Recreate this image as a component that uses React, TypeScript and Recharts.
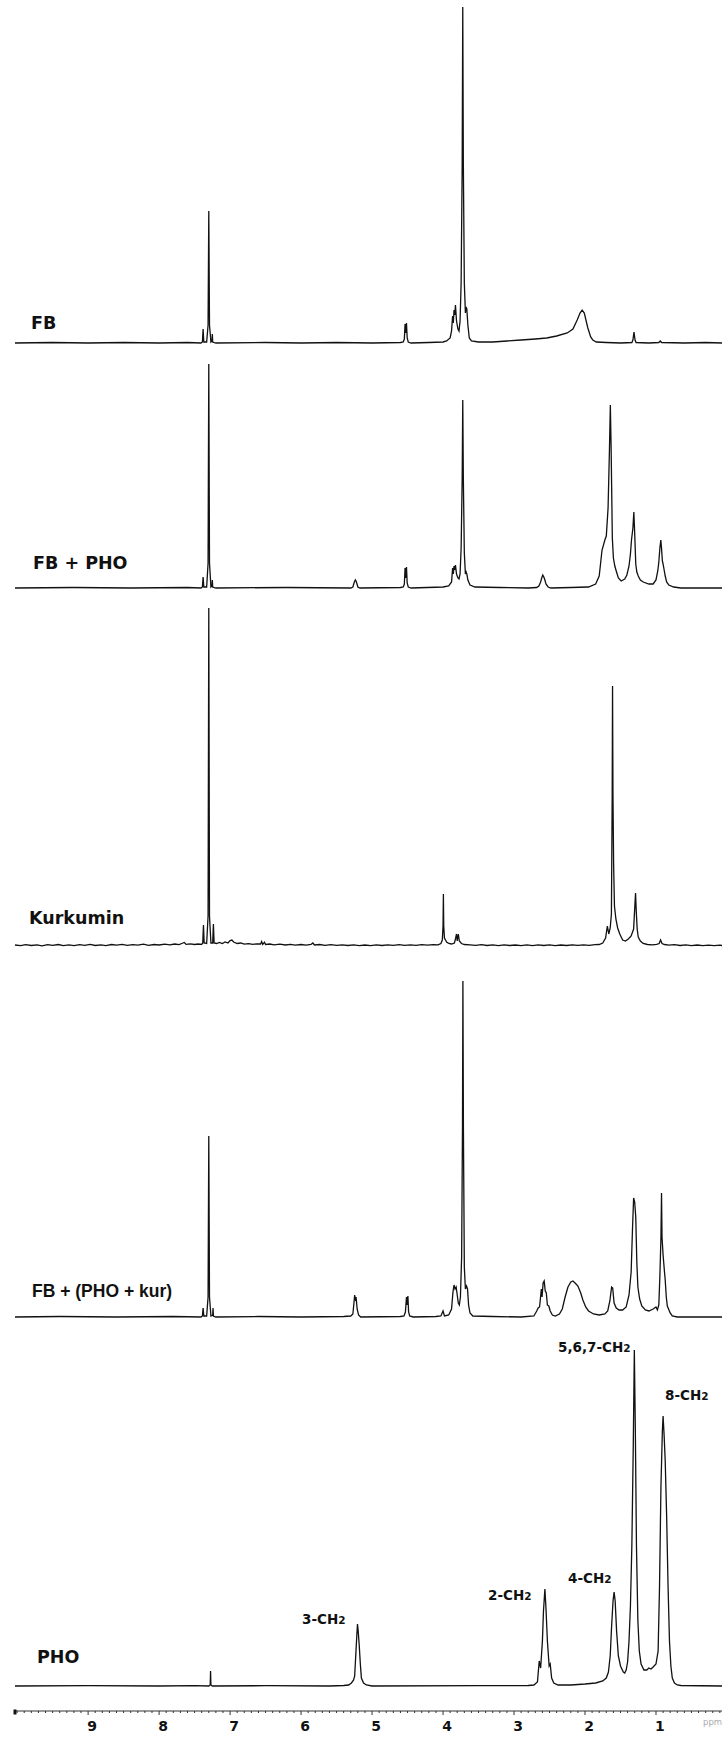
import React from 'react';
import { LineChart, Line, XAxis, YAxis } from 'recharts';

type Pt = [number, number];

// ---------- data (ppm, intensity) ----------
const fbSpectrum: Pt[] = [
  [10.03, 0], [9.5, 0.5], [9.0, 0], [8.5, 0.5], [8.0, 0], [7.6, 0.5], [7.41, 0], [7.39, 1], [7.38, 14], [7.37, 1],
  [7.33, 1], [7.31, 18], [7.3, 132], [7.29, 18], [7.27, 1], [7.255, 2], [7.25, 9], [7.245, 1], [7.2, 0], [6.5, 0.5],
  [6.0, 0], [5.5, 0.5], [5.0, 0], [4.6, 0.5], [4.56, 1], [4.545, 4], [4.535, 19], [4.525, 10], [4.515, 20], [4.505, 5],
  [4.49, 1], [4.45, 0], [4.2, 0.5], [4.0, 1], [3.95, 2], [3.9, 5], [3.88, 12], [3.865, 27], [3.855, 20], [3.845, 33],
  [3.835, 28], [3.825, 38], [3.81, 22], [3.79, 14], [3.775, 12], [3.76, 22], [3.745, 60], [3.73, 180], [3.722, 336],
  [3.714, 180], [3.7, 60], [3.685, 30], [3.675, 36], [3.665, 34], [3.65, 18], [3.63, 5], [3.6, 2], [3.5, 1], [3.3, 1],
  [3.1, 2], [2.9, 3], [2.7, 4], [2.54, 5], [2.4, 7], [2.25, 10], [2.17, 14], [2.11, 23], [2.07, 30], [2.04, 33],
  [2.01, 30], [1.96, 15], [1.92, 6], [1.89, 3], [1.84, 1], [1.7, 0.5], [1.5, 0], [1.34, 0.5], [1.325, 3], [1.31, 11],
  [1.295, 3], [1.28, 0.5], [1.1, 0], [0.96, 0.5], [0.94, 2], [0.92, 0.5], [0.6, 0], [0.3, 0.5], [0.07, 0],
];

const fbPhoSpectrum: Pt[] = [
  [10.03, 0], [9.2, 0.5], [8.4, 0], [7.6, 0.5], [7.41, 0], [7.39, 1], [7.38, 11], [7.37, 1], [7.33, 1], [7.31, 25],
  [7.3, 224], [7.29, 25], [7.27, 1], [7.255, 2], [7.25, 8], [7.245, 1], [7.2, 0], [6.2, 0.5], [5.3, 0], [5.27, 1],
  [5.25, 6], [5.235, 8], [5.22, 6], [5.2, 1], [5.17, 0], [4.6, 0.5], [4.56, 1], [4.545, 4], [4.535, 20], [4.525, 10],
  [4.515, 21], [4.505, 5], [4.49, 1], [4.45, 0], [4.0, 1], [3.92, 2], [3.88, 6], [3.865, 20], [3.855, 14], [3.845, 22],
  [3.835, 18], [3.825, 23], [3.81, 14], [3.79, 10], [3.775, 9], [3.76, 14], [3.745, 40], [3.73, 110], [3.722, 188],
  [3.714, 110], [3.7, 35], [3.685, 14], [3.675, 16], [3.665, 14], [3.65, 8], [3.62, 3], [3.55, 1], [3.2, 0.5], [2.8, 0],
  [2.68, 0.5], [2.65, 2], [2.625, 6], [2.61, 10], [2.595, 13], [2.58, 11], [2.565, 8], [2.55, 4], [2.52, 1], [2.48, 0],
  [2.2, 0.5], [1.95, 1], [1.85, 4], [1.8, 12], [1.76, 38], [1.72, 48], [1.7, 52], [1.675, 80], [1.655, 140],
  [1.643, 183], [1.632, 140], [1.615, 50], [1.6, 30], [1.58, 22], [1.56, 17], [1.53, 10], [1.49, 7], [1.44, 9],
  [1.41, 13], [1.38, 22], [1.36, 34], [1.345, 48], [1.325, 60], [1.312, 76], [1.3, 55], [1.285, 24], [1.27, 16],
  [1.25, 12], [1.22, 8], [1.18, 6], [1.1, 4], [1.04, 4], [1.0, 8], [0.975, 17], [0.96, 26], [0.945, 40], [0.932, 48],
  [0.922, 40], [0.91, 27], [0.9, 24], [0.885, 18], [0.87, 12], [0.85, 6], [0.82, 3], [0.75, 1], [0.65, 0], [0.07, 0],
];

const kurkuminSpectrum: Pt[] = [
  [10.03, 1], [9.95, 0.3], [9.88, 1.4], [9.8, 0.5], [9.72, 1.2], [9.65, 0.2], [9.57, 1.3], [9.5, 0.6], [9.42, 1.5],
  [9.35, 0.4], [9.27, 1.1], [9.2, 0.3], [9.12, 1.4], [9.05, 0.7], [8.97, 1.6], [8.9, 0.5], [8.82, 1.2], [8.75, 0.4],
  [8.67, 1.5], [8.6, 0.8], [8.52, 1.7], [8.45, 0.6], [8.37, 1.4], [8.3, 0.9], [8.22, 1.8], [8.15, 0.7], [8.07, 1.5],
  [8.0, 1.0], [7.92, 1.9], [7.85, 1.2], [7.78, 2.0], [7.72, 1.4], [7.68, 2.5], [7.645, 3.5], [7.62, 1.6], [7.56, 2.2],
  [7.5, 1.5], [7.45, 2.0], [7.4, 1.6], [7.385, 3], [7.375, 21], [7.365, 3], [7.33, 2.5], [7.31, 30], [7.3, 338],
  [7.29, 30], [7.27, 3], [7.245, 3], [7.235, 22], [7.225, 3], [7.19, 2.5], [7.15, 3.5], [7.11, 2.5], [7.07, 4],
  [7.03, 3], [7.0, 5.5], [6.975, 6], [6.95, 4], [6.9, 2.5], [6.85, 3], [6.8, 1.8], [6.74, 2.4], [6.68, 1.6], [6.62, 2.2],
  [6.57, 2], [6.555, 4.5], [6.54, 1.6], [6.515, 3.8], [6.5, 1.5], [6.44, 2.0], [6.38, 1.2], [6.3, 1.8], [6.22, 1.0],
  [6.15, 1.6], [6.08, 0.8], [6.0, 1.5], [5.93, 0.9], [5.86, 1.6], [5.835, 3], [5.81, 1.0], [5.74, 1.5], [5.66, 0.7],
  [5.58, 1.3], [5.5, 0.6], [5.42, 1.2], [5.34, 0.5], [5.26, 1.1], [5.18, 0.4], [5.1, 1.0], [5.02, 0.4], [4.94, 1.1],
  [4.86, 0.5], [4.78, 1.2], [4.7, 0.6], [4.62, 1.3], [4.54, 0.6], [4.46, 1.2], [4.38, 0.7], [4.3, 1.3], [4.22, 0.8],
  [4.14, 1.4], [4.07, 1.2], [4.03, 2.5], [4.01, 6], [4.0, 20], [3.995, 52], [3.99, 20], [3.98, 8], [3.965, 6],
  [3.95, 4], [3.92, 2.5], [3.88, 2], [3.84, 3], [3.825, 7], [3.81, 12], [3.8, 5], [3.785, 12], [3.77, 5], [3.74, 2.5],
  [3.7, 1.5], [3.62, 1.2], [3.54, 0.6], [3.46, 1.3], [3.38, 0.5], [3.3, 1.1], [3.22, 0.4], [3.14, 1.2], [3.06, 0.5],
  [2.98, 1.0], [2.9, 0.3], [2.82, 1.1], [2.74, 0.4], [2.66, 1.2], [2.58, 0.5], [2.5, 1.1], [2.42, 0.4], [2.34, 1.0],
  [2.26, 0.5], [2.18, 1.2], [2.1, 0.6], [2.02, 1.1], [1.94, 0.7], [1.86, 1.3], [1.8, 1.5], [1.75, 3], [1.71, 8],
  [1.685, 20], [1.665, 12], [1.645, 18], [1.628, 32], [1.617, 150], [1.612, 260], [1.606, 150], [1.597, 82],
  [1.585, 40], [1.565, 27], [1.54, 18], [1.51, 12], [1.47, 6], [1.43, 5], [1.39, 7], [1.35, 10], [1.315, 17],
  [1.298, 40], [1.288, 53], [1.278, 35], [1.265, 17], [1.25, 9], [1.22, 5], [1.18, 2.5], [1.12, 1.5], [1.05, 1.2],
  [0.99, 1.6], [0.955, 2.5], [0.935, 6], [0.915, 2.5], [0.88, 1.5], [0.82, 0.8], [0.74, 1.3], [0.66, 0.5], [0.58, 1.1],
  [0.5, 0.4], [0.42, 1.0], [0.34, 0.3], [0.26, 0.9], [0.18, 0.3], [0.1, 0.8], [0.07, 0.5],
];

const fbPhoKurSpectrum: Pt[] = [
  [10.03, 0], [9.4, 0.5], [8.6, 0], [7.8, 0.5], [7.41, 0], [7.39, 1], [7.38, 9], [7.37, 1], [7.33, 1], [7.31, 20],
  [7.3, 181], [7.29, 20], [7.27, 1], [7.245, 2], [7.24, 9], [7.235, 1], [7.2, 0], [6.6, 0.5], [6.0, 0], [5.4, 0.5],
  [5.3, 1], [5.27, 3], [5.255, 14], [5.245, 22], [5.235, 18], [5.225, 20], [5.21, 8], [5.19, 2], [5.16, 0], [4.6, 0.5],
  [4.55, 1], [4.53, 5], [4.515, 20], [4.505, 12], [4.495, 21], [4.485, 5], [4.47, 1], [4.42, 0], [4.1, 0.5], [4.03, 1],
  [4.0, 6], [3.98, 1], [3.92, 2], [3.88, 8], [3.86, 25], [3.845, 32], [3.83, 28], [3.815, 30], [3.8, 22], [3.785, 14],
  [3.77, 12], [3.755, 20], [3.738, 60], [3.726, 190], [3.72, 336], [3.713, 190], [3.7, 50], [3.685, 28], [3.67, 31],
  [3.655, 28], [3.64, 12], [3.62, 4], [3.58, 1], [3.3, 0.5], [2.9, 0], [2.72, 1], [2.68, 6], [2.66, 9], [2.64, 10],
  [2.615, 28], [2.605, 20], [2.59, 34], [2.575, 36], [2.56, 26], [2.545, 24], [2.53, 12], [2.51, 11], [2.49, 6],
  [2.46, 2], [2.42, 1], [2.36, 3], [2.32, 8], [2.28, 20], [2.24, 30], [2.2, 35], [2.17, 36], [2.14, 34], [2.1, 31],
  [2.06, 24], [2.03, 17], [1.99, 10], [1.95, 6], [1.88, 3], [1.8, 2], [1.72, 3], [1.68, 6], [1.65, 16], [1.625, 30],
  [1.61, 29], [1.59, 14], [1.56, 9], [1.52, 7], [1.47, 7], [1.42, 10], [1.38, 22], [1.35, 45], [1.33, 90],
  [1.315, 119], [1.3, 115], [1.285, 100], [1.27, 55], [1.255, 30], [1.23, 18], [1.2, 11], [1.15, 7], [1.1, 6],
  [1.04, 8], [1.0, 10], [0.98, 7], [0.96, 12], [0.945, 41], [0.93, 80], [0.922, 124], [0.915, 80], [0.9, 62],
  [0.88, 45], [0.87, 37], [0.855, 20], [0.84, 11], [0.8, 4], [0.77, 1], [0.7, 0], [0.07, 0],
];

const phoSpectrum: Pt[] = [
  [10.03, 0], [9.0, 0.3], [8.0, 0], [7.5, 0.3], [7.3, 0], [7.28, 1], [7.275, 15], [7.27, 1], [7.25, 0], [6.5, 0.3],
  [5.6, 0], [5.4, 0.5], [5.33, 1], [5.29, 3], [5.26, 6], [5.245, 10], [5.23, 30], [5.215, 50], [5.205, 62],
  [5.195, 55], [5.18, 40], [5.165, 22], [5.15, 8], [5.12, 3], [5.08, 1], [5.0, 0], [3.5, 0.3], [2.8, 0.5], [2.72, 1],
  [2.67, 4], [2.645, 25], [2.625, 18], [2.6, 45], [2.585, 75], [2.565, 97], [2.55, 78], [2.53, 45], [2.505, 20],
  [2.49, 22], [2.47, 8], [2.44, 3], [2.38, 1], [2.2, 1], [2.0, 2], [1.85, 3], [1.75, 5], [1.7, 8], [1.67, 14],
  [1.645, 30], [1.625, 60], [1.605, 85], [1.59, 94], [1.575, 85], [1.555, 55], [1.53, 30], [1.5, 20], [1.46, 14],
  [1.44, 13], [1.42, 16], [1.4, 24], [1.38, 45], [1.36, 80], [1.34, 140], [1.32, 240], [1.305, 336], [1.29, 250],
  [1.275, 140], [1.255, 65], [1.235, 35], [1.21, 22], [1.17, 16], [1.13, 16], [1.1, 18], [1.07, 17], [1.04, 19],
  [1.0, 22], [0.97, 35], [0.95, 100], [0.93, 200], [0.91, 255], [0.9, 270], [0.885, 250], [0.87, 225], [0.85, 170],
  [0.83, 100], [0.81, 45], [0.79, 20], [0.77, 8], [0.74, 3], [0.7, 1], [0.65, 0.5], [0.07, 0],
];

const spectrumNames = ['FB', 'FB + PHO', 'Kurkumin', 'FB + (PHO + kur)', 'PHO'];
const majorTicks = [9, 8, 7, 6, 5, 4, 3, 2, 1];
const tickLabels = ['9', '8', '7', '6', '5', '4', '3', '2', '1'];
const peakLabels = [
  { pre: '3-CH', x: 302, y: 1619 },
  { pre: '2-CH', x: 488, y: 1595 },
  { pre: '4-CH', x: 568, y: 1578 },
  { pre: '5,6,7-CH', x: 558, y: 1347 },
  { pre: '8-CH', x: 665, y: 1395 },
];

// ---------- layout ----------
const W = 722;
const H = 1739;
const PLOT_LEFT = 15;
const X_DOMAIN: [number, number] = [0.07, 10.03];
const AXIS_Y = 1711;
const INK = '#111';

const panels = [
  { data: fbSpectrum, top: 0, baseline: 343, lx: 31, ly: 323, font: 'DejaVu Sans' },
  { data: fbPhoSpectrum, top: 343, baseline: 588, lx: 33, ly: 563, font: 'DejaVu Sans' },
  { data: kurkuminSpectrum, top: 588, baseline: 946, lx: 29, ly: 918, font: 'DejaVu Sans' },
  { data: fbPhoKurSpectrum, top: 946, baseline: 1317, lx: 32, ly: 1291, font: 'Liberation Sans' },
  { data: phoSpectrum, top: 1317, baseline: 1686, lx: 37, ly: 1657, font: 'DejaVu Sans' },
];

const minorTicks: number[] = [];
for (let i = 1; i <= 100; i++) minorTicks.push(i / 10);
const axisTicks = [X_DOMAIN[1], ...minorTicks];

function Spectrum({ data, top, baseline }: { data: Pt[]; top: number; baseline: number }) {
  const h = baseline - top;
  const rows = data.map(([x, y]) => ({ x, y }));
  return (
    <div style={{ position: 'absolute', left: 0, top }}>
      <LineChart width={W} height={h + 2} data={rows} margin={{ top: 0, right: 0, bottom: 2, left: PLOT_LEFT }}>
        <XAxis type="number" dataKey="x" domain={X_DOMAIN} reversed hide />
        <YAxis type="number" domain={[0, h]} hide />
        <Line
          type="linear"
          dataKey="y"
          stroke={INK}
          strokeWidth={1.3}
          dot={false}
          activeDot={false}
          isAnimationActive={false}
        />
      </LineChart>
    </div>
  );
}

function AxisTick(props: any) {
  const { x, y, payload } = props;
  const v: number = payload.value;
  if (v > 10.01) {
    return <rect x={x - 1.5} y={y - 1.5} width={3} height={5} fill={INK} />;
  }
  const idx = majorTicks.findIndex((m) => Math.abs(m - v) < 1e-6);
  const major = idx >= 0;
  return (
    <g>
      <line x1={x} x2={x} y1={y} y2={y + (major ? 4 : 2)} stroke="#333" strokeWidth={1} />
      {major && (
        <text
          x={x + 4}
          y={y + 20}
          textAnchor="middle"
          fontFamily="DejaVu Sans"
          fontWeight="bold"
          fontSize={14}
          fill={INK}
        >
          {tickLabels[idx]}
        </text>
      )}
    </g>
  );
}

export default function App() {
  const axisRows = [{ x: X_DOMAIN[1] }, { x: X_DOMAIN[0] }];
  return (
    <div style={{ position: 'absolute', left: 0, top: 0, width: W, height: H, overflow: 'hidden', background: '#fff' }}>
      {panels.map((p, i) => (
        <Spectrum key={i} data={p.data} top={p.top} baseline={p.baseline} />
      ))}
      <div style={{ position: 'absolute', left: 0, top: AXIS_Y - 21 }}>
        <LineChart width={W} height={49} data={axisRows} margin={{ top: 0, right: 0, bottom: 0, left: PLOT_LEFT }}>
          <XAxis
            type="number"
            dataKey="x"
            domain={X_DOMAIN}
            reversed
            ticks={axisTicks}
            interval={0}
            tickLine={false}
            tickSize={0}
            tickMargin={0}
            height={28}
            axisLine={{ stroke: '#333', strokeWidth: 1 }}
            tick={(tp: any) => <AxisTick {...tp} />}
          />
          <YAxis type="number" domain={[0, 1]} hide />
        </LineChart>
      </div>
      <svg width={W} height={H} style={{ position: 'absolute', left: 0, top: 0, pointerEvents: 'none' }}>
        {panels.map((p, i) => (
          <text
            key={i}
            x={p.lx}
            y={p.ly + 6.4}
            fontFamily={p.font}
            fontWeight="bold"
            fontSize={17.5}
            fill={INK}
          >
            {spectrumNames[i]}
          </text>
        ))}
        {peakLabels.map((l, i) => (
          <text key={i} x={l.x} y={l.y + 5} fontFamily="DejaVu Sans" fontWeight="bold" fontSize={13.5} fill={INK}>
            {l.pre}
            <tspan fontSize={10.5}>2</tspan>
          </text>
        ))}
        <text x={703} y={1725} fontFamily="DejaVu Sans" fontSize={8.5} fill="#aaa">
          ppm
        </text>
      </svg>
    </div>
  );
}
